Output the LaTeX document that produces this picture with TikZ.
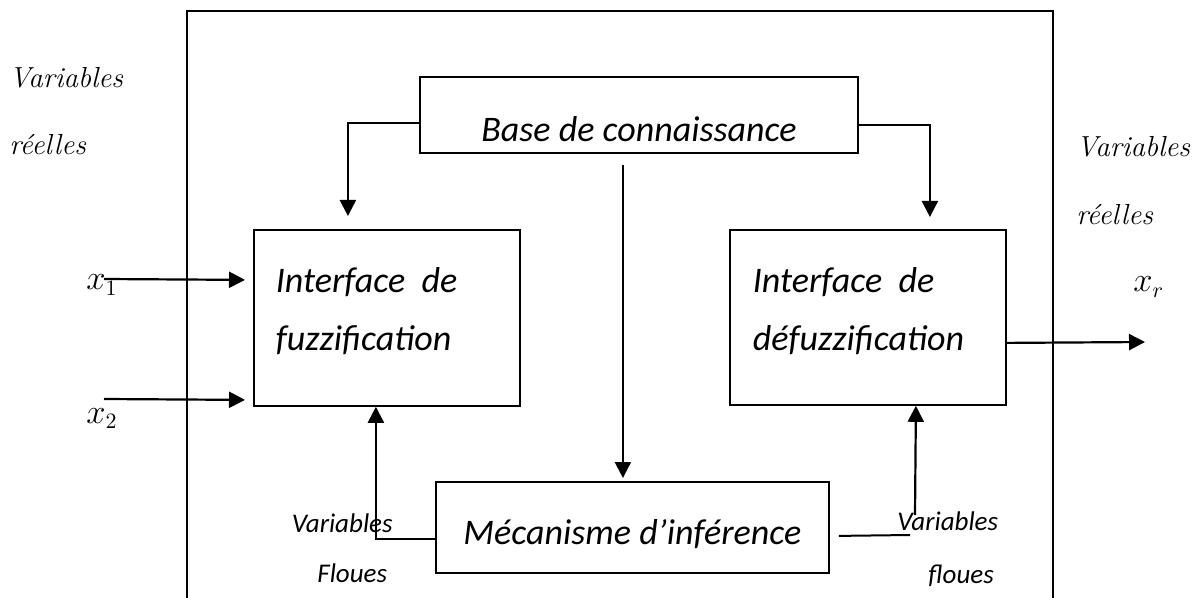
\documentclass[tikz,border=0pt]{standalone}
\usepackage{fontspec}
\newfontfamily\calib{Carlito}
\usetikzlibrary{arrows.meta}

\tikzset{
  box/.style={draw, line width=0.9pt, rectangle, inner ysep=0pt,
    font=\calib\fontsize{18}{29}\selectfont\itshape, anchor=north west},
  arr/.style={line width=1.1pt, -{Triangle[length=8pt,width=8pt]}},
  wire/.style={line width=1pt},
  sidelabel/.style={font=\rmfamily\fontsize{14.5}{17}\selectfont\itshape, inner sep=0pt, anchor=base west},
  floulabel/.style={font=\calib\fontsize{13.5}{16}\selectfont\itshape, inner sep=0pt},
  varlabel/.style={font=\fontsize{16}{18}\selectfont, inner sep=0pt, anchor=base west}
}

\begin{document}
\begin{tikzpicture}[x=0.5pt, y=-0.5pt]
  \useasboundingbox (0,0) rectangle (1197,598);
  \clip (0,0) rectangle (1197,598);

  % outer frame (open at the bottom)
  \draw[line width=1pt] (187,610) -- (187,11) -- (1053,11) -- (1053,610);

  % blocks
  \node[box, minimum width=219pt, inner xsep=0pt, text height=32.5pt, text depth=5.5pt]
    (base) at (419,76) {Base de connaissance};
  \node[box, inner xsep=11pt, text height=31.5pt, text depth=56.5pt]
    (fuz) at (253,229) {\parbox[t]{111pt}{Interface\ \ de\\fuzzification}};
  \node[box, inner xsep=11.5pt, text height=31.5pt, text depth=56pt]
    (defuz) at (729,229) {\parbox[t]{115pt}{Interface\ \ de\\défuzzification}};
  \node[box, minimum width=196.5pt, inner xsep=0pt, text height=31.5pt, text depth=14pt]
    (meca) at (435,481) {Mécanisme d’inférence};

  % free ends of the connectors
  \coordinate (in1) at (104,279);
  \coordinate (in2) at (104,399);
  \coordinate (out) at (1145,342);
  \coordinate (rstub) at (910,535);
  \coordinate (rfeed) at (915,515);

  % knowledge base to the three blocks
  \draw[arr] ([yshift=-4pt]base.west) -| ([xshift=-19.5pt,yshift=6.5pt]fuz.north);
  \draw[arr] ([yshift=-5pt]base.east) -| ([xshift=31pt,yshift=6pt]defuz.north);
  \draw[arr] ([xshift=-8pt,yshift=-5.5pt]base.south) -- ([xshift=-4.75pt,yshift=1.5pt]meca.north);

  % crisp inputs and output
  \draw[arr] (in1) -- ([xshift=-4pt,yshift=19pt]fuz.west);
  \draw[arr] (in2) -- ([xshift=-4pt,yshift=-41pt]fuz.west);
  \draw[arr] ([yshift=-12.75pt]defuz.east) -- (out);

  % fuzzy variables between inference and interfaces
  \draw[arr] ([yshift=-5.75pt]meca.west) -| ([xshift=-5.5pt]fuz.south);
  \draw[wire] ([xshift=4.5pt,yshift=-4.25pt]meca.east) -- (rstub);
  \draw[arr] (rfeed) -- ([xshift=24pt]defuz.south);

  % labels
  \node[sidelabel] (lv) at (9,88) {Variables};
  \node[sidelabel] (lr) at (9,155) {réelles};
  \node[sidelabel] (rv) at (1076,157) {Variables};
  \node[sidelabel] (rr) at (1076,225) {réelles};

  \node[varlabel] (x1) at (86,290) {$x_1$};
  \node[varlabel] (x2) at (86,423) {$x_2$};
  \node[varlabel] (xr) at (1133,292) {$x_r$};

  \node[floulabel, anchor=base east] (bv1) at (393,532) {Variables};
  \node[floulabel, anchor=base west] (bf1) at (317,582) {Floues};
  \node[floulabel, anchor=base west] (bv2) at (897,530) {Variables};
  \node[floulabel, anchor=base west] (bf2) at (928,583) {floues};
\end{tikzpicture}
\end{document}
